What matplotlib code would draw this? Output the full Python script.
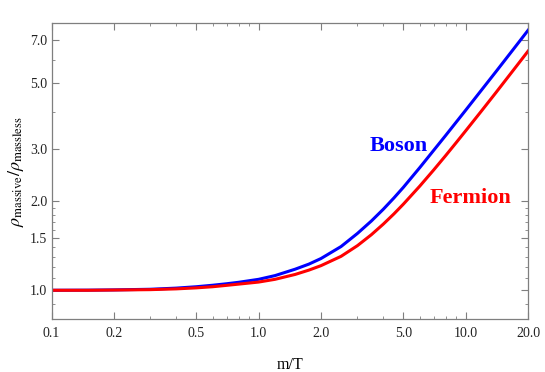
import matplotlib
matplotlib.use("Agg")
import matplotlib.pyplot as plt
from matplotlib.ticker import FixedLocator, FixedFormatter, NullFormatter

# values (m/T vs energy density ratio)
m_over_T = [0.1, 0.15, 0.2, 0.3, 0.4, 0.5, 0.6, 0.7, 0.8, 1.0, 1.2, 1.5, 1.75, 2.0, 2.5,
            3.0, 3.5, 4.0, 4.5, 5.0, 6.0, 7.0, 8.0, 9.0, 10.0, 12.0, 14.0, 17.0, 20.0]
boson = [1.000, 1.001, 1.003, 1.008, 1.017, 1.028, 1.040, 1.052, 1.064, 1.089, 1.121, 1.178, 1.226, 1.280, 1.405,
         1.556, 1.713, 1.878, 2.05, 2.227, 2.596, 2.968, 3.333, 3.698, 4.058, 4.773, 5.475, 6.52, 7.55]
fermion = [1.000, 1.000, 1.002, 1.005, 1.011, 1.019, 1.028, 1.039, 1.049, 1.066, 1.089, 1.131, 1.170, 1.211, 1.302,
           1.415, 1.540, 1.673, 1.811, 1.954, 2.248, 2.548, 2.850, 3.154, 3.457, 4.058, 4.654, 5.543, 6.42]

x_major = [0.1, 0.2, 0.5, 1.0, 2.0, 5.0, 10.0, 20.0]
x_minor = [0.3, 0.4, 0.6, 0.7, 0.8, 0.9, 3, 4, 6, 7, 8, 9]
y_major = [1.0, 1.5, 2.0, 3.0, 5.0, 7.0]
y_minor = [0.9, 1.1, 1.2, 1.3, 1.4, 1.6, 1.7, 1.8, 1.9, 4, 6]

plt.rcParams['font.family'] = 'Liberation Serif'
plt.rcParams['mathtext.fontset'] = 'stix'

fig = plt.figure(figsize=(5.45, 3.72), dpi=100)
ax = fig.add_axes([0.0945, 0.1425, 0.8745, 0.7945])

ax.plot(m_over_T, boson, color='#0000ff', lw=2.2)
ax.plot(m_over_T, fermion, color='#ff0000', lw=2.2)

ax.set_xscale('log')
ax.set_yscale('log')
ax.set_xlim(0.1, 20)
ax.set_ylim(0.8, 7.96)

ax.xaxis.set_major_locator(FixedLocator(x_major))
ax.xaxis.set_major_formatter(FixedFormatter(["%.1f" % v for v in x_major]))
ax.xaxis.set_minor_locator(FixedLocator(x_minor))
ax.xaxis.set_minor_formatter(NullFormatter())
ax.yaxis.set_major_locator(FixedLocator(y_major))
ax.yaxis.set_major_formatter(FixedFormatter(["%.1f" % v for v in y_major]))
ax.yaxis.set_minor_locator(FixedLocator(y_minor))
ax.yaxis.set_minor_formatter(NullFormatter())

frame = '#7f7f7f'
for s in ax.spines.values():
    s.set_color(frame)
    s.set_linewidth(0.9)
ax.tick_params(which='both', direction='in', top=True, right=True,
               color=frame, labelsize=10, labelcolor='#222222')
ax.tick_params(which='major', length=5, width=0.8)
ax.tick_params(which='minor', length=2.5, width=0.6)
ax.tick_params(axis='x', which='major', pad=6)
ax.tick_params(axis='y', which='major', pad=3)

ax.set_xlabel('m/T', fontsize=11.5, labelpad=12)
ax.set_ylabel(r'$\rho_{\rm massive}/\rho_{\rm massless}$', fontsize=13, labelpad=3)

ax.text(4.77, 2.96, 'Boson', color='#0000ff', fontsize=16, fontweight='bold',
        ha='center', va='baseline')
ax.text(10.55, 1.965, 'Fermion', color='#ff0000', fontsize=16, fontweight='bold',
        ha='center', va='baseline')

fig.savefig('out.png', dpi=100)
